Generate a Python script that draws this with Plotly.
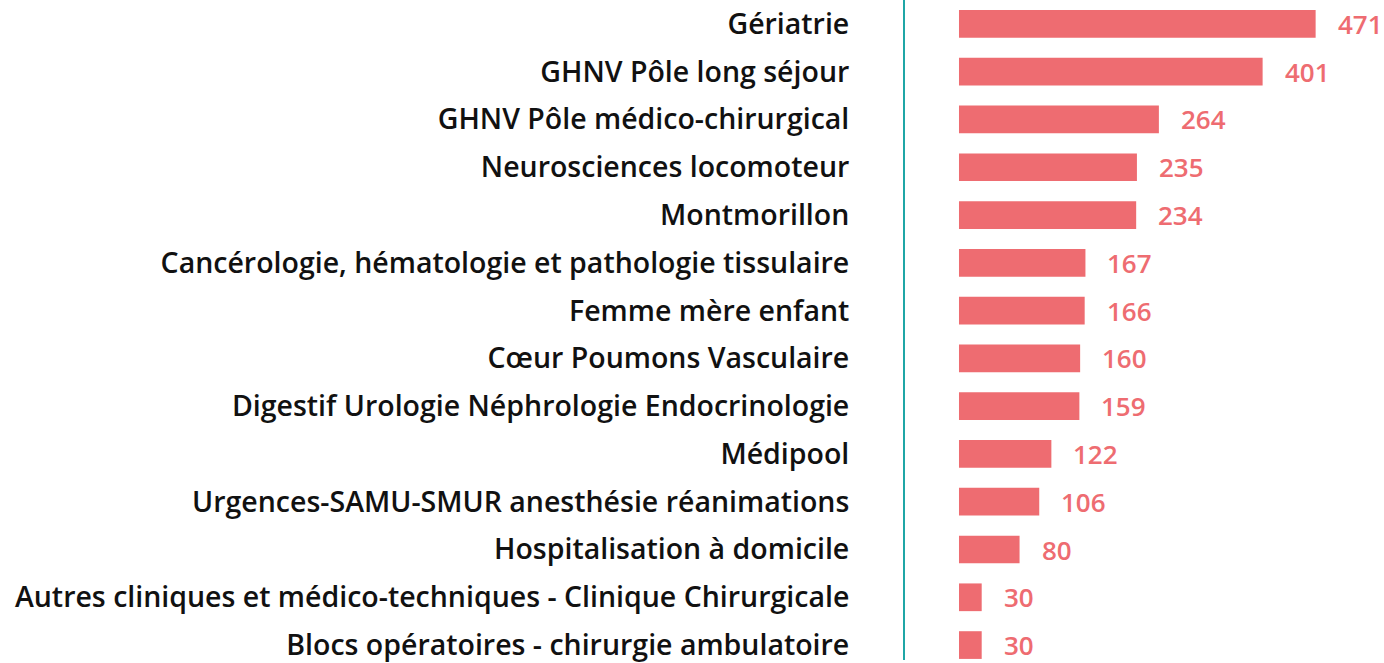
import plotly.graph_objects as go

categories = [
    "Gériatrie",
    "GHNV Pôle long séjour",
    "GHNV Pôle médico-chirurgical",
    "Neurosciences locomoteur",
    "Montmorillon",
    "Cancérologie, hématologie et pathologie tissulaire",
    "Femme mère enfant",
    "Cœur Poumons Vasculaire",
    "Digestif Urologie Néphrologie Endocrinologie",
    "Médipool",
    "Urgences-SAMU-SMUR anesthésie réanimations",
    "Hospitalisation à domicile",
    "Autres cliniques et médico-techniques - Clinique Chirurgicale",
    "Blocs opératoires - chirurgie ambulatoire",
]
values = [471, 401, 264, 235, 234, 167, 166, 160, 159, 122, 106, 80, 30, 30]

BAR = "#EE6C71"
TEAL = "#1FA6A6"
FONT = "Open Sans"

fig = go.Figure()
fig.add_trace(go.Bar(
    x=values, y=categories, orientation="h",
    marker=dict(color=BAR, line=dict(width=0)),
    width=0.58,
    hoverinfo="skip",
))

for c, v in zip(categories, values):
    fig.add_annotation(
        x=v, y=c, text=str(v), showarrow=False,
        xanchor="left", yanchor="middle", xshift=20,
        font=dict(family=FONT, size=26, color=BAR, weight=600),
    )

fig.update_layout(
    width=1384, height=663,
    margin=dict(l=905, r=0, t=0, b=0),
    paper_bgcolor="white", plot_bgcolor="white",
    showlegend=False,
    font=dict(family=FONT, size=28, color="#111111", weight=600),
)
fig.update_xaxes(range=[-71.3, 561.3], visible=False, showgrid=False, zeroline=False)
fig.update_yaxes(
    type="category",
    categoryorder="array", categoryarray=categories,
    range=[13.3125, -0.5],
    showline=True, linecolor=TEAL, linewidth=2,
    showgrid=False, zeroline=False,
    ticks="", ticklabelstandoff=48,
    tickfont=dict(family=FONT, size=28.5, color="#111111", weight=600),
)

fig.write_html(
    "out.html",
    config={"displayModeBar": False},
    post_script="document.body.style.margin='0';document.body.style.padding='0';",
)
